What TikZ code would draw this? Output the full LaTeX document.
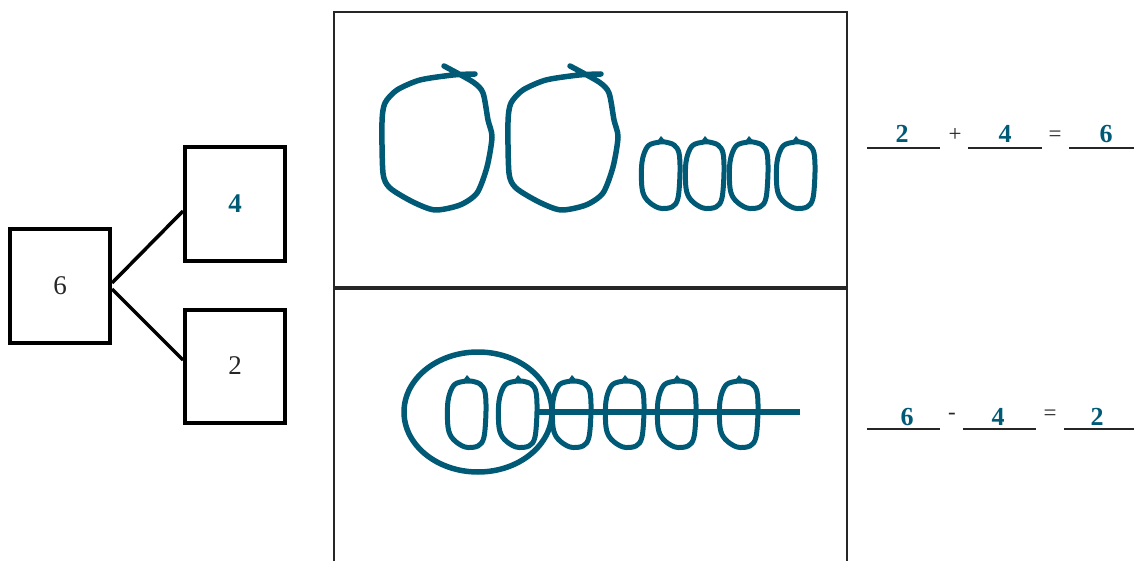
\documentclass[tikz,border=0pt]{standalone}
\usepackage{fontspec}
\setmainfont{Liberation Serif}
\definecolor{ink}{RGB}{0,90,118}
\definecolor{txt}{RGB}{38,38,38}
\begin{document}
\begin{tikzpicture}[x=1pt,y=-1pt,
  numbox/.style={draw=black,line width=4pt,minimum width=100pt,minimum height=113pt,inner sep=0pt,font=\fontsize{27}{30}\selectfont,text=txt},
  bond/.style={draw=black,line width=3.5pt},
  pen/.style={draw=ink,line width=5.5pt,line join=round,line cap=round},
  blank/.style={draw=txt,line width=1.5pt},
  ans/.style={anchor=base,inner sep=0pt,text=ink,font=\fontsize{26}{28}\selectfont\bfseries},
  op/.style={anchor=center,inner sep=0pt,text=txt,font=\fontsize{23}{26}\selectfont},
  bead/.pic={
    \draw[pen,line width=5pt] plot[smooth cycle,tension=0.55] coordinates {(-1,-32) (-13,-28) (-19,-12) (-19,14) (-14,26) (-2,34) (11,33) (17,24) (19,-2) (18,-21) (13,-29) (4,-32)};
    \fill[ink] (-5,-31) -- (0,-38) -- (6,-31) -- cycle;
  }]
\useasboundingbox (0,0) rectangle (1134,561);
\clip (0,0) rectangle (1134,561);

% number bond
\node[numbox] (b6) at (60,286) {6};
\node[numbox,text=ink,font=\fontsize{27}{30}\selectfont\bfseries] (b4) at (235,204) {4};
\node[numbox] (b2) at (235,366) {2};
\draw[bond] ([yshift=3pt]b6.east) -- ([yshift=-7pt]b4.west);
\draw[bond] ([yshift=-3pt]b6.east) -- ([yshift=6pt]b2.west);

% central panel
\draw[draw=txt,line width=1.5pt] (334,12) rectangle (847,600);
\draw[draw=txt,line width=4pt] (334,288) -- (847,288);

% top: two tens and four ones
\foreach \dx in {0,126}{
  \draw[pen,shift={(\dx,0)}] plot[smooth,tension=0.45] coordinates {(444,66) (473,82) (483,93) (488,120) (492,137) (487,167) (477,193) (460,205) (435,210) (413,202) (390,188) (383,173) (382,122) (385,103) (397,90) (420,80) (453,75) (475,74)};
}
\foreach \cx in {661,705,749,796}{
  \pic at (\cx,174) {bead};
}

% bottom: six ones, two circled, four crossed
\foreach \cx in {467,518,572,625,677,739}{
  \pic at (\cx,413) {bead};
}
\draw[pen] (478,412) ellipse [x radius=74pt, y radius=60pt];
\draw[pen,line cap=butt] (537,412) -- (800,412);

% equations
\draw[blank] (867,148) -- (940,148);
\draw[blank] (968,148) -- (1042,148);
\draw[blank] (1069,148) -- (1140,148);
\node[ans] (a1) at (902,143) {2};
\node[op] (p1) at (955,135) {+};
\node[ans] (a2) at (1005,143) {4};
\node[op] (e1) at (1055,136) {=};
\node[ans] (a3) at (1106,143) {6};

\draw[blank] (867,429) -- (940,429);
\draw[blank] (963,429) -- (1036,429);
\draw[blank] (1064,429) -- (1140,429);
\node[ans] (c1) at (907,425) {6};
\node[op] (m1) at (952,416) {-};
\node[ans] (c2) at (998,425) {4};
\node[op] (e2) at (1050,415) {=};
\node[ans] (c3) at (1097,425) {2};
\end{tikzpicture}
\end{document}
